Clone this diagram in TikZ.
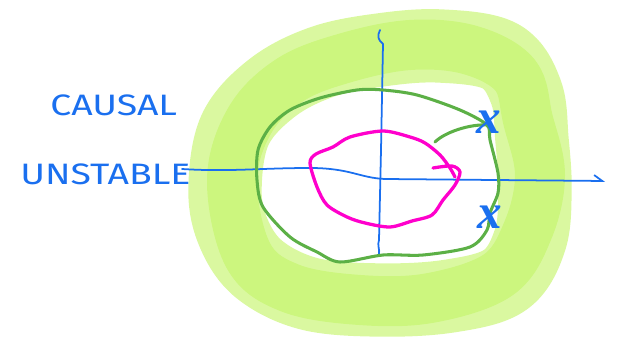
\documentclass[tikz,border=0pt]{standalone}
\usepackage{fontspec}
\setmainfont{Fira Sans}
\newfontfamily\polefont{Liberation Serif}
\usetikzlibrary{arrows.meta, calc}
\definecolor{inkblue}{RGB}{26, 111, 239}
\definecolor{ringgreen}{RGB}{92, 176, 70}
\definecolor{hilite}{RGB}{172, 240, 45}
\definecolor{pinkcol}{RGB}{255, 0, 204}

\begin{document}
\begin{tikzpicture}[x=0.03cm, y=-0.03cm,
      pen/.style={line cap=round, line join=round},
      band/.style={pen, draw=hilite, draw opacity=0.45, line width=2.2cm},
      axis/.style={pen, draw=inkblue, line width=1.5pt},
      ring/.style={pen, draw=ringgreen, line width=2.6pt},
      inner/.style={pen, draw=pinkcol, line width=2.8pt},
      label/.style={inkblue, font=\fontsize{24}{24}\selectfont, inner sep=0pt, xscale=1.33, yscale=1.05},
      pole/.style={inkblue, font=\polefont\itshape\bfseries\fontsize{42}{42}\selectfont, inner sep=0pt}]

      \useasboundingbox (0,0) rectangle (621,343);

      % Bande surlignee (zone ROC)
      \draw[band] plot[smooth cycle, tension=0.6] coordinates {
        (225,190) (235,130) (272,88) (322,62) (380,50) (440,46) (500,56)
        (526,92) (532,140) (535,190) (530,240) (505,280) (450,296)
        (380,300) (310,294) (260,270) (234,234)};
      \draw[band, line width=1.5cm, draw opacity=0.3] plot[smooth cycle, tension=0.6] coordinates {
        (232,180) (250,120) (290,80) (345,58) (410,45) (470,50) (515,75)
        (528,120) (540,175) (528,230) (498,275) (430,298) (360,300)
        (290,288) (248,255)};

      % Axes
      \coordinate (hstart) at (182,169);
      \coordinate (hend) at (605,181);
      \coordinate (vtop) at (380,30);
      \coordinate (vbot) at (379,254);
      \draw[axis, -{Straight Barb[left, length=7pt, width=10pt]}] (hstart)
        .. controls (230,172) and (260,168) .. (310,168)
        .. controls (350,168) and (360,178) .. (385,179) -- (hend);
      \draw[axis] (vtop) .. controls (377,36) and (378,40) .. (383,44)
        -- (381,150) -- (379,240) .. controls (377,245) and (380,250) .. (vbot);

      % Cercle des poles
      \draw[ring] plot[smooth cycle, tension=0.5] coordinates {
        (383,90) (417,95) (460,110) (487,125) (490,140) (498,173)
        (498,193) (490,213) (487,230) (470,247) (423,255) (383,255)
        (340,262) (317,252) (290,237) (263,207) (257,180) (258,150)
        (270,127) (290,110) (320,98) (357,90)};
      \draw[ring] (487,125) .. controls (470,124) and (445,132) .. (435,142);

      % Contour interieur
      \draw[inner] plot[smooth, tension=0.5] coordinates {
        (433,168) (452,166) (460,172) (455,185) (443,200) (432,215)
        (412,221) (390,227) (365,223) (347,217) (327,205) (317,187)
        (310,163) (316,154) (333,147) (350,137) (383,131) (410,137)
        (425,143) (440,155) (450,168) (455,177)};

      % Poles
      \node[pole] (p1) at (489,122) {x};
      \node[pole] (p2) at (490,217) {x};

      % Textes
      \node[label, anchor=west] (causal) at (50,105) {CAUSAL};
      \node[label, anchor=west] (unstable) at (20,174) {UNSTABLE};
    \end{tikzpicture}
\end{document}
